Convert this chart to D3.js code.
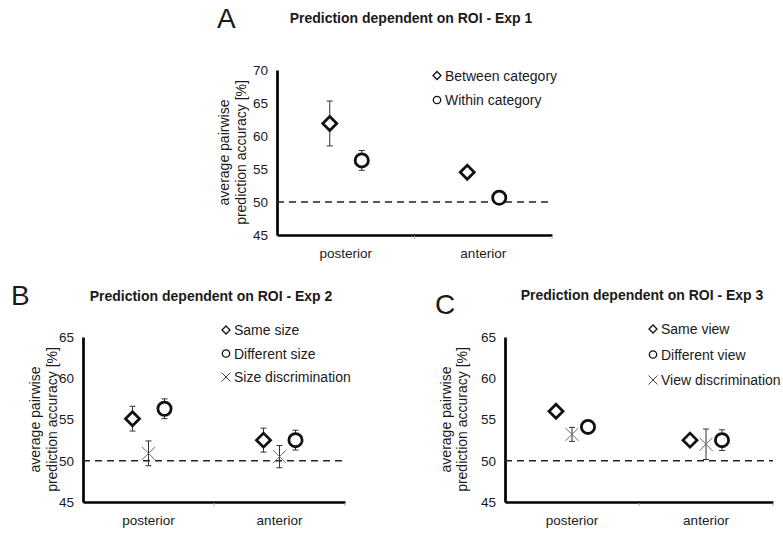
<!DOCTYPE html>
<html>
<head>
<meta charset="utf-8">
<script src="https://cdn.jsdelivr.net/npm/d3@7"></script>
<style>
  body { margin: 0; background: #fff; }
  text { font-family: "Liberation Sans", Arial, sans-serif; fill: #1a1a1a; }
</style>
</head>
<body>
<svg id="chart" width="783" height="533"></svg>
<script>
// ---- data ----
const categories = ["posterior", "anterior"]
const chance = 50

const titleA = "Prediction dependent on ROI - Exp 1"
const titleB = "Prediction dependent on ROI - Exp 2"
const titleC = "Prediction dependent on ROI - Exp 3"
const yLabel = ["average pairwise", "prediction accuracy [%]"]

const yTicksA = [45, 50, 55, 60, 65, 70]
const yTicksBC = [45, 50, 55, 60, 65]

// Exp 1
const seriesA = ["Between category", "Within category"]
const betweenMean = [61.9, 54.5]
const betweenErr = [3.4, 0.3]
const withinMean = [56.3, 50.65]
const withinErr = [1.5, 0.3]

// Exp 2
const seriesB = ["Same size", "Size discrimination", "Different size"]
const sameSizeMean = [55.1, 52.5]
const sameSizeErr = [1.5, 1.45]
const sizeDiscMean = [50.9, 50.5]
const sizeDiscErr = [1.5, 1.35]
const diffSizeMean = [56.3, 52.5]
const diffSizeErr = [1.2, 1.2]

// Exp 3
const seriesC = ["Same view", "View discrimination", "Different view"]
const sameViewMean = [56.0, 52.5]
const sameViewErr = [0.4, 0.3]
const viewDiscMean = [53.2, 52.0]
const viewDiscErr = [0.85, 1.85]
const diffViewMean = [54.1, 52.5]
const diffViewErr = [0.8, 1.25]

// legend order as shown in the figure
const legendA = ["Between category", "Within category"]
const legendB = ["Same size", "Different size", "Size discrimination"]
const legendC = ["Same view", "Different view", "View discrimination"]

const rows = (names, shapes, means, errs) => {
    let out = []
    names.forEach((n, i) => {
        categories.forEach((c, j) => {
            out.push({series: n, shape: shapes[i], cat: c, mean: means[i][j], err: errs[i][j]})
        })
    })
    return out
}

const svg = d3.select("#chart")

// marker shapes
const diamondPath = (r) => "M0," + (-r) + "L" + r + ",0L0," + r + "L" + (-r) + ",0Z"
const crossPath = (r) => {
    let p = d3.path()
    p.moveTo(-r, -r); p.lineTo(r, r)
    p.moveTo(-r, r); p.lineTo(r, -r)
    return p.toString()
}

const drawMarker = (sel, shape, big) => {
    if (shape == "diamond") {
        sel.append("path").attr("d", diamondPath(big ? 7 : 4))
            .attr("fill", "#fff").attr("stroke", "#111")
            .attr("stroke-width", big ? 2.8 : 1.3).attr("stroke-linejoin", "miter")
    } else if (shape == "circle") {
        sel.append("circle").attr("r", big ? 6.6 : 3.7)
            .attr("fill", "#fff").attr("stroke", "#111")
            .attr("stroke-width", big ? 2.8 : 1.3)
    } else {
        sel.append("path").attr("d", crossPath(big ? 6.5 : 4.5))
            .attr("fill", "none").attr("stroke", big ? "#6a6a6a" : "#444")
            .attr("stroke-width", 1)
    }
}

const panel = (cfg) => {
    let x = d3.scaleBand().domain(categories).range([cfg.left, cfg.right])
    let y = d3.scaleLinear().domain(d3.extent(cfg.ticks)).range([cfg.bottom, cfg.top])
    let off = d3.scalePoint().domain(cfg.series).range([-16, 16])

    let g = svg.append("g")

    // panel letter + title
    g.append("text").attr("x", cfg.letterX).attr("y", cfg.letterY)
        .style("font-size", "28px").text(cfg.letter)
    g.append("text").attr("x", cfg.titleX).attr("y", cfg.titleY)
        .attr("text-anchor", "middle").style("font-size", "14px").style("font-weight", "bold")
        .text(cfg.title)

    // y axis
    let ya = g.append("g").attr("transform", "translate(" + cfg.left + ",0)")
        .call(d3.axisLeft(y).tickValues(cfg.ticks).tickSize(0).tickPadding(9))
    ya.select(".domain").attr("stroke", "#000").attr("stroke-width", 2.7)
    ya.selectAll("text").style("font-size", "13.5px").style("font-family", "Liberation Sans, Arial, sans-serif").attr("fill", "#222")

    // x axis
    let xa = g.append("g").attr("transform", "translate(0," + cfg.bottom + ")")
        .call(d3.axisBottom(x).tickSize(0).tickPadding(13))
    xa.select(".domain").attr("stroke", "#000").attr("stroke-width", 2.7)
    xa.selectAll("text").style("font-size", "13.5px").style("font-family", "Liberation Sans, Arial, sans-serif").attr("fill", "#222")

    // little ticks at the band edges
    g.selectAll(".edge").data(categories).enter().append("line")
        .attr("x1", (d) => x(d) + x.bandwidth()).attr("x2", (d) => x(d) + x.bandwidth())
        .attr("y1", cfg.bottom + 1).attr("y2", cfg.bottom + 4)
        .attr("stroke", "#aaa").attr("stroke-width", 1)

    // y label (two lines)
    yLabel.forEach((t, i) => {
        g.append("text")
            .attr("transform", "translate(" + cfg.labelX[i] + "," + (cfg.top + cfg.bottom) / 2 + ") rotate(-90)")
            .attr("text-anchor", "middle").style("font-size", "14px").attr("fill", "#222")
            .text(t)
    })

    // chance line
    g.append("line")
        .attr("x1", cfg.left).attr("x2", cfg.right)
        .attr("y1", y(chance)).attr("y2", y(chance))
        .attr("stroke", "#222").attr("stroke-width", 1.3).attr("stroke-dasharray", "7,5")

    let cx = (d) => x(d.cat) + x.bandwidth() / 2 + off(d.series)

    // error bars
    let eb = g.selectAll(".err").data(cfg.data).enter().append("g")
        .attr("stroke", "#333").attr("stroke-width", 1)
    eb.append("line")
        .attr("x1", cx).attr("x2", cx)
        .attr("y1", (d) => y(d.mean - d.err)).attr("y2", (d) => y(d.mean + d.err))
    eb.append("line")
        .attr("x1", (d) => cx(d) - 3).attr("x2", (d) => cx(d) + 3)
        .attr("y1", (d) => y(d.mean + d.err)).attr("y2", (d) => y(d.mean + d.err))
    eb.append("line")
        .attr("x1", (d) => cx(d) - 3).attr("x2", (d) => cx(d) + 3)
        .attr("y1", (d) => y(d.mean - d.err)).attr("y2", (d) => y(d.mean - d.err))

    // markers
    g.selectAll(".pt").data(cfg.data).enter().append("g")
        .attr("transform", (d) => "translate(" + cx(d) + "," + y(d.mean) + ")")
        .each(function (d) { drawMarker(d3.select(this), d.shape, true) })

    // legend
    cfg.legend.forEach((name, i) => {
        let shape = cfg.data.find((d) => d.series == name).shape
        let lg = g.append("g")
            .attr("transform", "translate(" + cfg.legendX + "," + (cfg.legendY + i * cfg.legendStep) + ")")
        drawMarker(lg, shape, false)
        lg.append("text").attr("x", 8).attr("y", 5)
            .style("font-size", "14px").attr("fill", "#222").text(name)
    })
}

panel({
    letter: "A", letterX: 217, letterY: 28,
    title: titleA, titleX: 411, titleY: 23,
    left: 277, right: 552, top: 70, bottom: 235, ticks: yTicksA,
    labelX: [229, 246],
    series: seriesA,
    data: rows(seriesA, ["diamond", "circle"], [betweenMean, withinMean], [betweenErr, withinErr]),
    legend: legendA, legendX: 437, legendY: 75.5, legendStep: 24.5
})

panel({
    letter: "B", letterX: 11, letterY: 305,
    title: titleB, titleX: 211, titleY: 301,
    left: 83, right: 345, top: 337, bottom: 502, ticks: yTicksBC,
    labelX: [40, 57],
    series: seriesB,
    data: rows(seriesB, ["diamond", "cross", "circle"], [sameSizeMean, sizeDiscMean, diffSizeMean], [sameSizeErr, sizeDiscErr, diffSizeErr]),
    legend: legendB, legendX: 226, legendY: 330, legendStep: 23.5
})

panel({
    letter: "C", letterX: 435, letterY: 314,
    title: titleC, titleX: 642, titleY: 300,
    left: 505, right: 773, top: 337, bottom: 502, ticks: yTicksBC,
    labelX: [451, 467],
    series: seriesC,
    data: rows(seriesC, ["diamond", "cross", "circle"], [sameViewMean, viewDiscMean, diffViewMean], [sameViewErr, viewDiscErr, diffViewErr]),
    legend: legendC, legendX: 653, legendY: 329, legendStep: 25.5
})
</script>
</body>
</html>
